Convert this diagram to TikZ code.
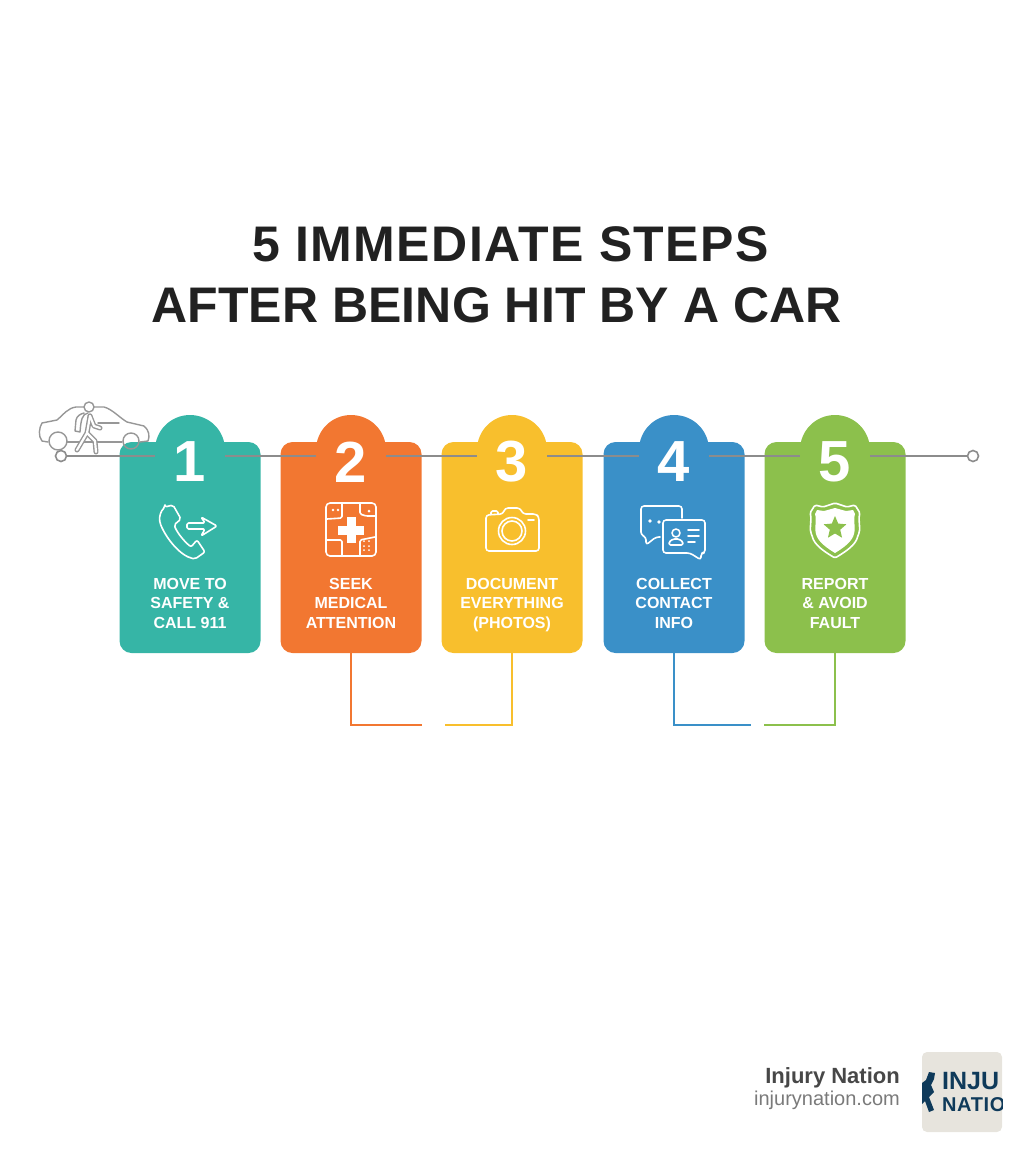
\documentclass[tikz,border=0pt]{standalone}
\usepackage{fontspec}
\usepackage{xcolor}
\usetikzlibrary{shapes, positioning}
\setmainfont{Liberation Sans}
\newfontfamily\titlefont[LetterSpace=2.9]{Liberation Sans}
\newfontfamily\subtitlefont[LetterSpace=0.15]{Liberation Sans}
\newfontfamily\logofont[LetterSpace=3]{Liberation Sans}
\definecolor{tealcard}{HTML}{36B5A6}
\definecolor{orangecard}{HTML}{F27731}
\definecolor{yellowcard}{HTML}{F8BF2D}
\definecolor{bluecard}{HTML}{3A90C8}
\definecolor{greencard}{HTML}{8CC04C}
\definecolor{trackgray}{HTML}{8C8C8C}
\definecolor{logoblue}{HTML}{0F3A5A}
\definecolor{logobg}{HTML}{E7E4DD}
\begin{document}
\begin{tikzpicture}[x=1pt, y=-1pt,
            card/.style={rectangle, rounded corners=12pt, minimum width=141pt, minimum height=211pt, inner sep=0pt},
            bump/.style={circle, minimum size=70pt, inner sep=0pt},
            num/.style={text=white, inner sep=0pt, font=\bfseries\fontsize{58}{58}\selectfont},
            step text/.style={text=white, align=center, inner sep=0pt, anchor=north, font=\bfseries\fontsize{16}{19.6}\selectfont},
            track/.style={draw=trackgray, line width=2pt},
            dot/.style={circle, draw=trackgray, fill=white, line width=1.6pt, minimum size=11pt, inner sep=0pt},
            link/.style={line width=2pt},
            icon/.style={draw=white, line width=1.6pt, line join=round, line cap=round, rounded corners=1.5pt},
            carline/.style={draw=trackgray!90, line width=1.4pt, line join=round, line cap=round}]
            \useasboundingbox (0,0) rectangle (1024,1154);

            % title
            \node[text=black!87, inner sep=0pt, font=\titlefont\bfseries\fontsize{50}{50}\selectfont] (title1) at (510.5,244) {5 IMMEDIATE STEPS};
            \node[text=black!87, inner sep=0pt, font=\subtitlefont\bfseries\fontsize{50}{50}\selectfont] (title2) at (496.5,305) {AFTER BEING HIT BY A CAR};

            % cards
            \node[card, fill=tealcard] (card1) at (190,547.5) {};
            \node[card, fill=orangecard] (card2) at (351,547.5) {};
            \node[card, fill=yellowcard] (card3) at (512,547.5) {};
            \node[card, fill=bluecard] (card4) at (674,547.5) {};
            \node[card, fill=greencard] (card5) at (835,547.5) {};
            \node[bump, fill=tealcard] (bump1) at (190,450) {};
            \node[bump, fill=orangecard] (bump2) at (351,450) {};
            \node[bump, fill=yellowcard] (bump3) at (512,450) {};
            \node[bump, fill=bluecard] (bump4) at (674,450) {};
            \node[bump, fill=greencard] (bump5) at (835,450) {};

            \node[num] (num1) at (190,462) {1};
            \node[num] (num2) at (351,462) {2};
            \node[num] (num3) at (512,462) {3};
            \node[num] (num4) at (674,462) {4};
            \node[num] (num5) at (835,462) {5};

            \node[step text] (text1) at (190,578) {MOVE TO\\SAFETY \&\\CALL 911};
            \node[step text] (text2) at (351,578) {SEEK\\MEDICAL\\ATTENTION};
            \node[step text] (text3) at (512,578) {DOCUMENT\\EVERYTHING\\(PHOTOS)};
            \node[step text] (text4) at (674,578) {COLLECT\\CONTACT\\INFO};
            \node[step text] (text5) at (835,578) {REPORT\\\& AVOID\\FAULT};

            % line through the cards
            \node[dot] (start) at (61,456) {};
            \node[dot] (stop) at (973,456) {};
            \draw[track] (start) -- (bump1.west |- start);
            \draw[track] (bump1.east |- start) -- (bump2.west |- start);
            \draw[track] (bump2.east |- start) -- (bump3.west |- start);
            \draw[track] (bump3.east |- start) -- (bump4.west |- start);
            \draw[track] (bump4.east |- start) -- (bump5.west |- start);
            \draw[track] (bump5.east |- start) -- (stop);

            % links under the cards
            \coordinate (end2) at (422,725);
            \coordinate (end3) at (445,725);
            \coordinate (end4) at (751,725);
            \coordinate (end5) at (764,725);
            \draw[link, draw=orangecard] (card2.south) |- (end2);
            \draw[link, draw=yellowcard] (card3.south) |- (end3);
            \draw[link, draw=bluecard] (card4.south) |- (end4);
            \draw[link, draw=greencard] (card5.south) |- (end5);

            % car and walker
            \draw[carline] (48,442) -- (42,441) .. controls (38,436) and (39,428) .. (42,423) -- (57,420) .. controls (64,414) and (68,408) .. (76,407) -- (104,407) .. controls (112,409) and (120,418) .. (127,422) -- (144,426) .. controls (149,430) and (150,436) .. (148,441) -- (140,442);
            \draw[carline] (67,442) -- (122,442);
            \draw[carline] (98,423) -- (119,423);
            \draw[carline] (58,441) circle (9);
            \draw[carline] (131,441) circle (8);
            \draw[carline, fill=white] (89,407) circle (5);
            \draw[carline, fill=white] (88,413) .. controls (82,414) and (81,420) .. (80,432) -- (75,431) -- (76,420) .. controls (77,416) and (80,414) .. (84,413);
            \draw[carline, line width=5pt] (90,416) -- (87,433) -- (77,450);
            \draw[carline, line width=5pt] (87,433) -- (95,441) -- (96,452);
            \draw[carline, line width=5pt] (90,416) -- (94,426) -- (100,428);
            \draw[line width=2.2pt, white, line cap=round, line join=round] (90,416) -- (87,433) -- (77,450);
            \draw[line width=2.2pt, white, line cap=round, line join=round] (87,433) -- (95,441) -- (96,452);
            \draw[line width=2.2pt, white, line cap=round, line join=round] (90,416) -- (94,426) -- (100,428);

            % phone
            \draw[icon, rounded corners=2pt] (165,507) -- (173,505) -- (181,519) -- (174,525) .. controls (178,534) and (184,541) .. (191,547) -- (197,540) -- (205,552) -- (195,559) .. controls (180,556) and (166,538) .. (160,523) .. controls (159,516) and (161,511) .. (165,507) -- cycle;
            \draw[icon] (187,523) -- (205,523) -- (201,517) -- (217,526) -- (201,536) -- (205,529) -- (187,529) -- cycle;

            % first aid kit
            \draw[icon, rounded corners=4pt] (326,503) rectangle (376,556);
            \draw[icon] (342,504) -- (342,518) -- (327,519);
            \draw[icon] (360,504) -- (360,514) -- (366,516) -- (375,516);
            \draw[icon] (327,540) -- (342,540) -- (342,555);
            \draw[icon] (360,555) -- (360,540) -- (375,537);
            \fill[white] (346.5,517) rectangle (355.5,543);
            \fill[white] (338,525.5) rectangle (364,534.5);
            \fill[white] (333,510) circle (1.3) (338,510) circle (1.3) (369,511) circle (1.5) (364,541) circle (1) (369,541) circle (1) (364,546) circle (1) (369,546) circle (1) (364,550) circle (1) (369,550) circle (1);

            % camera
            \draw[icon, rounded corners=3pt] (486,515) -- (503,514) -- (505,508) -- (520,508) -- (523,514) -- (536,514) -- (539,517) -- (539,551) -- (486,551) -- cycle;
            \draw[icon] (491,514) -- (491,511) -- (498,511) -- (498,514);
            \draw[icon] (512,531) circle (13.5);
            \draw[icon] (512,531) circle (10);
            \draw[icon] (528,520) -- (534,520);

            % speech bubbles
            \draw[icon, rounded corners=3pt] (660,537) -- (656,537) -- (646,545) -- (646,537) -- (641,535) -- (641,506) -- (682,506) -- (682,518);
            \fill[white] (650,521) circle (1.8) (659,522) circle (1.8);
            \draw[icon, rounded corners=3pt] (663,520) -- (705,520) -- (705,553) -- (701,553) -- (701,560) -- (690,553) -- (663,553) -- cycle;
            \draw[icon] (676,533) circle (4);
            \draw[icon] (669,545) -- (669,542) -- (673,539) -- (679,539) -- (683,542) -- (683,545) -- cycle;
            \draw[icon] (688,530) -- (699,530);
            \draw[icon] (688,536) -- (699,536);
            \draw[icon] (688,542) -- (695,542);

            % badge
            \draw[icon] (835,503) -- (823,507) -- (815,505) -- (810,513) .. controls (812,520) and (809,530) .. (812,535) .. controls (814,545) and (825,552) .. (835,558) .. controls (845,552) and (856,545) .. (858,535) .. controls (861,530) and (858,520) .. (860,513) -- (855,505) -- (847,507) -- cycle;
            \fill[white] (835,508) -- (824,511) -- (817,510) -- (815,514) .. controls (817,520) and (814,530) .. (816,534) .. controls (818,542) and (827,548) .. (835,553) .. controls (843,548) and (852,542) .. (854,534) .. controls (856,530) and (853,520) .. (855,514) -- (853,510) -- (846,511) -- cycle;
            \node[star, star points=5, star point ratio=2.2, fill=greencard, minimum size=24pt, inner sep=0pt] (badgestar) at (835,528) {};

            % brand
            \node[anchor=east, text=black!72, inner sep=0pt, font=\bfseries\fontsize{22}{22}\selectfont] (brand) at (900,1078) {Injury Nation};
            \node[anchor=east, text=black!52, inner sep=0pt, font=\fontsize{20}{20}\selectfont] (site) at (900,1100) {injurynation.com};
            \fill[logobg, rounded corners=5pt] (922,1052) rectangle (1002,1132);
            \begin{scope}
                \clip (922,1052) rectangle (1002,1132);
                \node[anchor=west, text=logoblue, inner sep=0pt, font=\bfseries\fontsize{25}{25}\selectfont] (logo1) at (942,1081) {INJU};
                \node[anchor=west, text=logoblue, inner sep=0pt, font=\logofont\bfseries\fontsize{20}{20}\selectfont] (logo2) at (942,1105) {NATIO};
                \fill[logoblue] (929,1072) -- (935,1073) -- (934,1079) -- (931,1085) -- (934,1092) -- (929,1097) -- (934,1110) -- (929,1112) -- (925,1101) -- (922,1104) -- (922,1083) -- (926,1080) -- cycle;
            \end{scope}
        \end{tikzpicture}
\end{document}
